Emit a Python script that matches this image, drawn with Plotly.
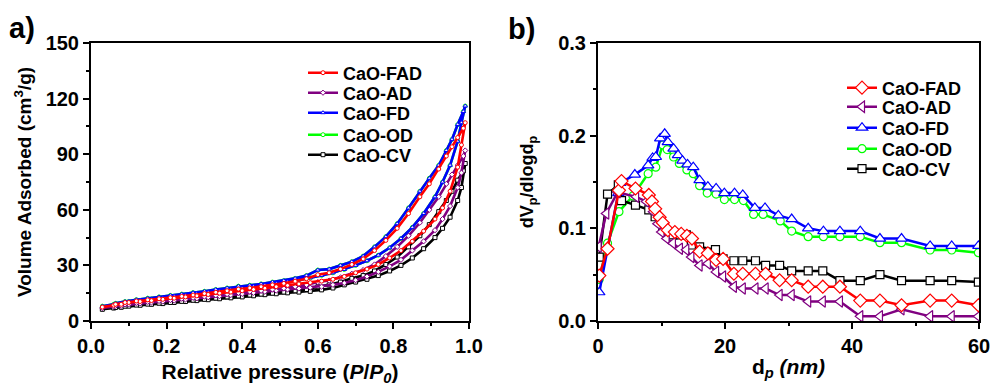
import plotly.graph_objects as go

# ---------------- Panel a) : N2 isotherms ----------------
p_ads = [0.03, 0.06, 0.08, 0.10, 0.13, 0.16, 0.19, 0.22, 0.25, 0.28, 0.31, 0.34, 0.37, 0.40, 0.43, 0.46, 0.49, 0.52,
         0.55, 0.58, 0.61, 0.64, 0.67, 0.70, 0.73, 0.76, 0.79, 0.82, 0.85, 0.88, 0.91, 0.93, 0.95, 0.97, 0.98, 0.99]
p_des = [0.985, 0.97, 0.955, 0.94, 0.92, 0.895, 0.87, 0.84, 0.81, 0.78, 0.75, 0.72, 0.69, 0.66, 0.63, 0.60, 0.57,
         0.54, 0.51, 0.48, 0.45, 0.42, 0.39, 0.36, 0.33, 0.30, 0.27, 0.24, 0.21, 0.18, 0.15, 0.12, 0.09, 0.065]

fad_ads = [7.5, 8.5, 9, 10, 10.5, 11, 11.7, 12.3, 13, 13.6, 14.3, 15, 15.6, 16.3, 17, 17.7, 18.5, 19.2, 20, 20.7,
           21.5, 22.5, 24, 26, 28, 30.5, 34, 38, 43, 48.5, 55, 61, 70, 83, 95, 107]
fad_des = [104, 99, 94, 89, 82, 74, 67, 58, 50, 43.5, 38, 33.5, 30.5, 28, 26, 25, 22.8, 21.5, 20.3, 19.5, 18.5,
           17.8, 17.2, 16.3, 15.5, 14.8, 14, 13.3, 12.6, 12, 11.4, 10.8, 10, 9]
ad_ads = [7, 7.8, 8.2, 9, 9.5, 10, 10.5, 11, 11.6, 12.2, 12.8, 13.4, 14, 14.6, 15.2, 15.8, 16.4, 17, 17.5, 18,
          18.5, 19.5, 20.5, 22, 24, 26.5, 29.5, 33, 38, 43, 49, 55, 62, 72, 80, 92]
ad_des = [89, 84, 79, 74, 67, 60, 53, 46, 40, 35, 30.5, 27.5, 25.5, 23.5, 21.8, 21, 19.5, 18.5, 17.6, 17, 16.3,
          15.8, 15.2, 14.5, 13.8, 13.2, 12.5, 12, 11.3, 10.8, 10.3, 9.8, 9, 8.2]
fd_ads = [8, 9, 9.5, 10.5, 11, 11.8, 12.5, 13.3, 14, 14.8, 15.5, 16.2, 17, 17.8, 18.6, 19.5, 20.3, 21.2, 22.2, 23.3,
          24.6, 26, 27.8, 30, 32.5, 35.5, 39.5, 44.5, 50.5, 58, 67, 75, 84, 97, 107, 116]
fd_des = [113, 106, 98, 92, 84, 77, 70, 61, 52.5, 45.5, 40, 35, 32, 30, 28, 27.5, 24.5, 23, 21.8, 21, 20, 19.3,
          18.8, 17.8, 17, 16, 15.3, 14.5, 13.8, 13, 12.3, 11.5, 10.5, 9.5]
od_ads = [8, 9, 9.5, 10.5, 11, 11.8, 12.5, 13.3, 14, 14.8, 15.5, 16.2, 17, 17.8, 18.6, 19.5, 20.3, 21.2, 22.2, 23.3,
          24.6, 26, 27.8, 30, 32.5, 35.5, 39.5, 44.5, 50.5, 58, 67, 75, 84, 97, 107, 116]
od_des = [113, 106, 98, 92, 84, 77, 70, 61, 52.5, 45.5, 40, 35, 32, 30, 28, 27.5, 24.5, 23, 21.8, 21, 20, 19.3,
          18.8, 17.8, 17, 16, 15.3, 14.5, 13.8, 13, 12.3, 11.5, 10.5, 9.5]
cv_ads = [6.3, 7, 7.4, 8, 8.5, 9, 9.4, 10, 10.5, 11, 11.5, 12, 12.5, 13, 13.6, 14.2, 14.7, 15.2, 15.6, 16, 16.8,
          17.8, 19.5, 21, 22.5, 24.5, 27, 30, 34, 39, 45, 50, 56, 65, 72, 85]
cv_des = [81, 76, 70, 65, 59, 52, 46, 40, 34.5, 30.5, 27, 24.5, 23, 21, 19.5, 18.5, 17, 16.3, 15.6, 15, 14.5, 14,
          13.5, 13, 12.3, 11.7, 11.2, 10.6, 10, 9.6, 9.1, 8.6, 8, 7.3]

# ---------------- Panel b) : pore size distribution ----------------
fad_x = [0.2, 1.5, 3.3, 3.7, 5.9, 8.0, 8.5, 9.0, 9.7, 10.2, 11.0, 12.1, 13.1, 14.0, 14.8, 16.0, 17.3, 18.6, 19.7,
         21.4, 22.8, 24.8, 26.4, 28.6, 30.5, 33.1, 35.4, 38.1, 41.3, 44.4, 47.8, 52.3, 55.7, 59.9]
fad_y = [0.049, 0.078, 0.141, 0.151, 0.143, 0.136, 0.129, 0.121, 0.112, 0.106, 0.098, 0.096, 0.094, 0.092, 0.089,
         0.075, 0.073, 0.066, 0.067, 0.051, 0.051, 0.051, 0.051, 0.044, 0.044, 0.037, 0.037, 0.037, 0.022, 0.022,
         0.017, 0.022, 0.022, 0.017]
ad_x = [0.1, 1.3, 3.1, 6.0, 7.6, 8.7, 9.4, 10.0, 10.8, 11.8, 12.9, 13.9, 14.7, 16.0, 17.3, 18.6, 19.7,
        21.4, 22.8, 24.8, 26.4, 28.6, 30.5, 33.1, 35.4, 38.1, 41.3, 44.4, 47.8, 52.3, 55.7, 59.9]
ad_y = [0.080, 0.116, 0.139, 0.134, 0.129, 0.118, 0.105, 0.096, 0.089, 0.084, 0.078, 0.077, 0.069, 0.060, 0.062,
        0.053, 0.048, 0.037, 0.035, 0.035, 0.035, 0.028, 0.028, 0.021, 0.021, 0.021, 0.005, 0.005, 0.0126, 0.005,
        0.005, 0.005]
fd_x = [0.2, 3.2, 3.5, 5.8, 7.9, 8.6, 9.1, 9.8, 10.5, 11.0, 11.9, 12.6, 13.3, 14.1, 15.0, 16.0, 17.3, 18.6, 19.9,
        21.5, 22.8, 24.7, 26.3, 28.4, 30.5, 33.1, 35.5, 38.1, 41.3, 44.4, 47.8, 52.3, 55.7, 59.9]
fd_y = [0.031, 0.138, 0.149, 0.158, 0.168, 0.176, 0.177, 0.197, 0.202, 0.193, 0.186, 0.179, 0.173, 0.169, 0.166,
        0.152, 0.145, 0.143, 0.138, 0.138, 0.136, 0.122, 0.122, 0.114, 0.110, 0.100, 0.097, 0.097, 0.097, 0.089,
        0.089, 0.081, 0.081, 0.081]
od_x = [0.2, 1.5, 3.3, 5.5, 7.9, 9.1, 10.2, 10.9, 11.9, 12.8, 14.0, 15.0, 16.0, 17.2, 18.6, 19.9, 21.5, 22.9,
        24.5, 26.0, 28.7, 30.5, 33.1, 35.5, 38.1, 41.3, 44.4, 47.8, 52.3, 55.7, 59.9]
od_y = [0.045, 0.084, 0.118, 0.135, 0.159, 0.166, 0.190, 0.185, 0.177, 0.170, 0.163, 0.159, 0.146, 0.138, 0.137,
        0.131, 0.131, 0.130, 0.115, 0.115, 0.108, 0.097, 0.091, 0.091, 0.091, 0.091, 0.0845, 0.0845, 0.0766,
        0.0766, 0.0737]
cv_x = [0.2, 1.5, 3.2, 3.7, 5.9, 8.0, 9.0, 10.2, 11.8, 12.9, 13.9, 14.7, 16.0, 18.5, 19.7, 21.4, 22.8, 24.8,
        26.4, 28.6, 30.5, 33.1, 35.4, 38.1, 41.3, 44.4, 47.8, 52.3, 55.7, 59.9]
cv_y = [0.069, 0.137, 0.147, 0.130, 0.125, 0.120, 0.1125, 0.102, 0.093, 0.093, 0.093, 0.082, 0.080, 0.077, 0.067,
        0.065, 0.065, 0.065, 0.060, 0.060, 0.054, 0.054, 0.054, 0.0435, 0.0435, 0.050, 0.0435, 0.0435, 0.0435, 0.042]

names = ["CaO-FAD", "CaO-AD", "CaO-FD", "CaO-OD", "CaO-CV"]
colors = {"CaO-FAD": "#FF0000", "CaO-AD": "#800080", "CaO-FD": "#0000FF", "CaO-OD": "#00FF00", "CaO-CV": "#000000"}
symbols = {"CaO-FAD": "diamond", "CaO-AD": "triangle-left", "CaO-FD": "triangle-up", "CaO-OD": "circle",
           "CaO-CV": "square"}
symbols_a = {"CaO-FAD": "circle", "CaO-AD": "diamond", "CaO-FD": "triangle-up", "CaO-OD": "circle",
             "CaO-CV": "square"}

iso = {"CaO-FAD": (fad_ads, fad_des), "CaO-AD": (ad_ads, ad_des), "CaO-FD": (fd_ads, fd_des),
       "CaO-OD": (od_ads, od_des), "CaO-CV": (cv_ads, cv_des)}
psd = {"CaO-FAD": (fad_x, fad_y), "CaO-AD": (ad_x, ad_y), "CaO-FD": (fd_x, fd_y),
       "CaO-OD": (od_x, od_y), "CaO-CV": (cv_x, cv_y)}

FONT = "Liberation Sans, Arial, sans-serif"
legfont = dict(family=FONT, size=18, color="black", weight="bold")

fig = go.Figure()

def legend_id(panel, nm):
    k = names.index(nm) + 1 + (0 if panel == "a" else 5)
    return "legend" if k == 1 else "legend%d" % k

# Draw order for panel a (OD hidden under FD, FAD on top)
draw_a = ["CaO-OD", "CaO-CV", "CaO-AD", "CaO-FD", "CaO-FAD"]
for nm in draw_a:
    ads, des = iso[nm]
    fig.add_trace(go.Scatter(
        x=p_ads + p_des, y=ads + des, name=nm, mode="lines+markers",
        line=dict(color=colors[nm], width=2.6),
        marker=dict(symbol=symbols_a[nm], size=4, color="white", line=dict(color=colors[nm], width=1)),
        xaxis="x", yaxis="y", legend=legend_id("a", nm)))

draw_b = ["CaO-OD", "CaO-FD", "CaO-CV", "CaO-AD", "CaO-FAD"]
for nm in draw_b:
    xs, ys = psd[nm]
    msize = 10 if nm in ("CaO-FAD", "CaO-FD", "CaO-AD") else 8
    fig.add_trace(go.Scatter(
        x=xs, y=ys, name=nm, mode="lines+markers",
        line=dict(color=colors[nm], width=2.5),
        marker=dict(symbol=symbols[nm], size=msize, color="white", line=dict(color=colors[nm], width=1.2)),
        xaxis="x2", yaxis="y2", legend=legend_id("b", nm)))

tickfont = dict(family=FONT, size=20, color="black", weight="bold")

def axis(domain, rng, dtick, minor, title, tsize, anchor, standoff, fmt):
    return dict(domain=domain, range=rng, dtick=dtick, tick0=0, anchor=anchor, tickformat=fmt,
                automargin=False, ticklabeloverflow="allow",
                showline=True, linewidth=2, linecolor="black", mirror=True,
                ticks="outside", ticklen=6, tickwidth=2, tickcolor="black",
                minor=dict(dtick=minor, tick0=0, ticks="outside", ticklen=3, tickwidth=2, tickcolor="black"),
                showgrid=False, zeroline=False, tickfont=tickfont,
                title=dict(text=title, standoff=standoff,
                           font=dict(family=FONT, size=tsize, color="black", weight="bold")))

ydom = [65 / 386, 343 / 386]
layout = dict(
    width=990, height=386, margin=dict(l=0, r=0, t=0, b=0, autoexpand=False),
    paper_bgcolor="white", plot_bgcolor="white", showlegend=True,
    xaxis=axis([91 / 990, 469 / 990], [0, 1.0], 0.2, 0.1,
               "Relative pressure (<i>P</i>/<i>P</i><sub><i>0</i></sub>)", 21, "y", 12, ".1f"),
    yaxis=axis(ydom, [0, 150], 30, 15, "Volume Adsorbed (cm<sup>3</sup>/g)", 19, "x", 9, "d"),
    xaxis2=axis([598 / 990, 979 / 990], [0, 60], 20, 10, "d<sub><i>p</i></sub> <i>(nm)</i>", 21, "y2", 3, "d"),
    yaxis2=axis(ydom, [0, 0.3], 0.1, 0.05, "dV<sub>p</sub>/dlogd<sub>p</sub>", 18, "x2", 20, ".1f"),
    annotations=[
        dict(text="a)", x=7 / 990, y=1 - 28 / 386, xref="paper", yref="paper", xanchor="left", yanchor="middle",
             showarrow=False, font=dict(family=FONT, size=29, color="black", weight="bold")),
        dict(text="b)", x=506 / 990, y=1 - 29 / 386, xref="paper", yref="paper", xanchor="left", yanchor="middle",
             showarrow=False, font=dict(family=FONT, size=29, color="black", weight="bold")),
    ],
)

# one legend box per entry so that row spacing matches the original
leg_y_a = [73, 93, 113, 135, 155]
leg_y_b = [88, 107, 128, 149, 169]
for i, nm in enumerate(names):
    for panel, xs_px, ys_px in (("a", 303, leg_y_a), ("b", 842, leg_y_b)):
        lid = legend_id(panel, nm)
        layout[lid] = dict(x=xs_px / 990, y=1 - ys_px[i] / 386, xanchor="left", yanchor="middle",
                           bgcolor="rgba(0,0,0,0)", font=legfont, borderwidth=0)

fig.update_layout(**layout)
fig.write_html("out.html")
